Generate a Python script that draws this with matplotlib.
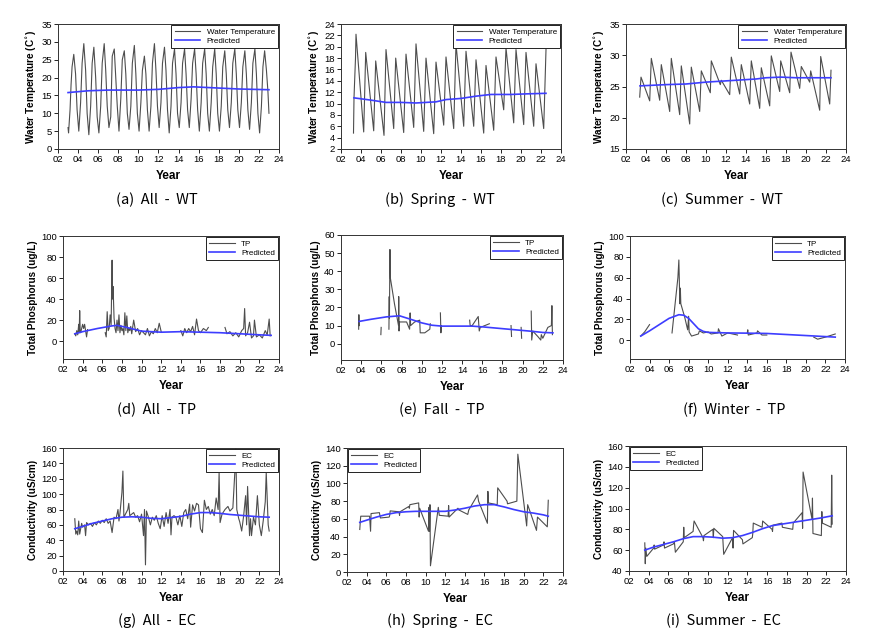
import numpy as np
import matplotlib
matplotlib.use("Agg")
import matplotlib.pyplot as plt

nan = np.nan

# ---------------- (a) All - WT ----------------
wt_all_x = [3.0, 3.05, 3.2, 3.3, 3.4, 3.57, 3.75, 3.9,
            4.07, 4.25, 4.4, 4.57, 4.75, 4.9,
            5.07, 5.25, 5.4, 5.57, 5.75, 5.9,
            6.07, 6.25, 6.4, 6.6, 6.75, 6.9,
            7.07, 7.25, 7.4, 7.6, 7.75, 7.9,
            8.07, 8.25, 8.4, 8.6, 8.75, 8.9,
            9.07, 9.25, 9.4, 9.6, 9.75, 9.9,
            10.07, 10.25, 10.4, 10.6, 10.75, 10.9,
            11.07, 11.25, 11.4, 11.6, 11.75, 11.9,
            12.07, 12.25, 12.4, 12.6, 12.75, 12.9,
            13.07, 13.25, 13.4, 13.6, 13.75, 13.9,
            14.07, 14.25, 14.4, 14.6, 14.75, 14.9,
            15.07, 15.25, 15.4, 15.6, 15.75, 15.9,
            16.07, 16.25, 16.4, 16.6, 16.75, 16.9,
            17.07, 17.25, 17.4, 17.6, 17.75, 17.9,
            18.07, 18.25, 18.4, 18.6, 18.75, 18.9,
            19.07, 19.25, 19.4, 19.6, 19.75, 19.9,
            20.07, 20.25, 20.4, 20.6, 20.75, 20.9,
            21.07, 21.25, 21.4, 21.6, 21.75, 21.9,
            22.07, 22.25, 22.4, 22.57, 22.75, 22.9, 23.0]
wt_all_y = [6, 4.5, 11, 18, 23, 26.5, 21, 11,
            5, 13, 24, 29.5, 22, 10,
            4, 12, 24, 28.5, 20, 9,
            4.5, 12, 24, 29.5, 22, 12,
            6, 9, 26, 28, 20, 12,
            5, 14, 25, 27.5, 21, 10,
            5.5, 12, 24, 29, 21, 10,
            5, 13, 22, 26, 21, 11,
            5, 12, 24, 29.5, 22, 12,
            6, 13, 24, 28.5, 22, 11,
            4.5, 12, 24, 28, 21, 10,
            6, 13, 24, 28, 21, 11,
            6, 14, 24, 28, 21, 11,
            5, 13, 24, 28, 21, 10,
            5, 13, 23, 28, 21, 10,
            5, 12, 23, 27.5, 21, 11,
            6, 13, 24, 28, 21, 11,
            6, 13, 23, 27.5, 21, 11,
            5.5, 13, 24, 28, 21, 10,
            4.5, 12, 23, 27.5, 22, 16, 10]
wt_all_px = [3.0, 5, 7, 10, 12, 14, 15.5, 17, 20, 23]
wt_all_py = [15.8, 16.3, 16.5, 16.5, 16.7, 17.2, 17.4, 17.2, 16.8, 16.6]

# ---------------- (b) Spring - WT ----------------
wt_spr_x = [3.25, 3.3, 3.45, 3.5, 4.27, 4.47, 5.27, 5.47, 6.3, 6.5, 7.27, 7.47,
            8.27, 8.5, 9.27, 9.5, 10.27, 10.5, 11.27, 11.5, 12.27, 12.5,
            13.27, 13.5, 14.27, 14.5, 15.27, 15.5, 16.27, 16.5, 17.27, 17.5,
            18.27, 18.5, 19.27, 19.5, 20.27, 20.5, 21.27, 21.5, 22.27, 22.5]
wt_spr_y = [4.8, 11, 18, 22.2, 5, 19, 5.2, 17.5, 4.4, 19.5, 5.6, 18,
            4.9, 18.7, 5.8, 20.5, 5.1, 18, 4.7, 17.3, 6.2, 18.2,
            5.6, 20.5, 6, 19.2, 6, 17.7, 4.8, 16.7, 5.3, 18.2,
            8.9, 19.8, 6.6, 19.5, 6.3, 19, 6, 17, 5.6, 19.5]
wt_spr_px = [3.3, 5, 6.5, 8, 9.5, 11.5, 12.5, 14, 15.5, 17, 19, 20.5, 22.5]
wt_spr_py = [11, 10.6, 10.2, 10.2, 10.1, 10.3, 10.7, 10.9, 11.3, 11.6, 11.6, 11.7, 11.8]

# ---------------- (c) Summer - WT ----------------
wt_sum_x = [3.37, 3.5, 4.37, 4.53, 5.37, 5.53, 6.37, 6.53, 7.37, 7.53, 8.37, 8.53,
            9.37, 9.53, 10.43, 10.53, 11.43, 11.53, 12.37, 12.53, 13.37, 13.53,
            14.37, 14.53, 15.37, 15.53, 16.37, 16.53, 17.37, 17.47, 18.37, 18.5,
            19.37, 19.53, 20.37, 20.47, 21.37, 21.47, 22.37, 22.5]
wt_sum_y = [23.3, 26.5, 22.7, 29.5, 22.8, 28.5, 21, 29.5, 20.5, 28.3, 19, 28.1,
            21, 27.5, 24, 29.1, 25.3, 26, 23.7, 29.7, 23.8, 28.5,
            22.2, 29.1, 21.5, 28, 21.9, 29.9, 24.2, 29.1, 24, 30.5,
            24.7, 28.2, 25.7, 27.5, 21.2, 29.8, 22.2, 27.6]
wt_sum_px = [3.4, 6, 8, 10, 12, 14, 15, 16, 17.5, 19, 22.5]
wt_sum_py = [25.1, 25.3, 25.4, 25.7, 25.9, 26.1, 26.2, 26.4, 26.5, 26.4, 26.4]

# ---------------- (d) All - TP ----------------
tp_all_x = [3.2, 3.3, 3.4, 3.5, 3.6, 3.65, 3.7, 3.75, 3.8, 3.9, 4.0, 4.1, 4.2, 4.3, 4.4, 4.5, nan,
            6.3, 6.4, 6.5, 6.6, 6.7, 6.8, 6.9, 7.0, 7.05, 7.1, 7.2, 7.3, 7.4, 7.5, 7.6, 7.7,
            7.8, 7.9, 8.0, 8.1, 8.2, 8.3, 8.4, 8.5, 8.6, 8.7, 8.8, 8.9, 9.0, 9.2, 9.4, 9.6,
            9.8, 10.0, 10.2, 10.4, 10.6, 10.8, 11.0, 11.2, 11.4, 11.6, 11.8, 12.0, nan,
            14.0, 14.2, 14.4, 14.6, 14.8, 15.0, 15.2, 15.4, 15.6, 15.8, 16.0, 16.3, 16.6, 16.8, nan,
            18.5, 18.7, 19.0, 19.3, 19.6, 19.9, 20.2, 20.4, 20.5, 20.6, 20.8, 21.0, 21.2, 21.4,
            21.5, 21.7, 22.0, 22.3, 22.6, 22.8, 23.0, 23.1]
tp_all_y = [7, 5, 10, 6, 16, 8, 29, 10, 8, 12, 16, 12, 16, 10, 4, 11, nan,
            8, 4, 28, 10, 12, 25, 15, 77, 40, 52, 22, 12, 8, 20, 10, 25,
            8, 15, 10, 12, 6, 27, 10, 24, 8, 12, 10, 14, 7, 20, 9, 12,
            6, 10, 8, 6, 12, 5, 9, 7, 12, 8, 17, 9, nan,
            10, 5, 12, 8, 12, 9, 14, 6, 21, 10, 8, 12, 10, 13, nan,
            13, 7, 9, 5, 8, 4, 10, 12, 31, 5, 8, 18, 3, 5,
            20, 4, 6, 3, 10, 6, 21, 5]
tp_all_px = [3.2, 4, 5.5, 7, 7.5, 8.5, 10, 12, 14, 16, 18, 20, 22, 23.2]
tp_all_py = [7, 9, 12, 14.5, 15, 13, 9.5, 8.5, 9, 8.5, 8, 7, 6, 5.5]

# ---------------- (e) Fall - TP ----------------
tp_fall_x = [3.75, 3.77, 3.8, nan, 5.95, 5.98, nan,
             6.75, 6.78, 6.8, 6.85, 6.9, 7.3, 7.7, 7.72, 7.75, 7.8, 8.5, 8.8, 8.85, 8.9,
             9.3, 9.8, 9.85, 10.3, 10.8, 10.85, nan, 11.85, 11.9, 11.95, nan,
             14.75, 14.8, 15.0, 15.6, 15.7, 15.8, 16.7, nan, 18.85, 18.9, nan, 19.85, 19.9, nan,
             20.85, 20.9, 21.0, 21.5, 21.8, 21.85, 22.0, 22.5, 22.85, 22.9, 22.95]
tp_fall_y = [8, 16, 10, nan, 5, 9, nan,
             8, 26, 14, 52, 36, 22, 10, 26, 7, 12, 12, 8, 17, 10,
             12, 13, 6, 6, 8, 11, nan, 17, 6, 10, nan,
             13, 10, 10, 15, 7, 9, 11, nan, 10, 4, nan, 9, 3, nan,
             18, 2, 7, 4, 2, 5, 3, 9, 10, 21, 5]
tp_fall_px = [3.8, 5, 6.5, 7.8, 9, 10, 11, 12, 14, 15, 16, 18, 20, 21, 22, 23]
tp_fall_py = [12.3, 13.5, 14.8, 15.4, 13.3, 11.5, 10.2, 9.7, 9.7, 9.7, 9.3, 8.3, 7.3, 6.8, 6.2, 6.0]

# ---------------- (f) Winter - TP ----------------
tp_win_x = [3.1, 3.5, 4.0, nan, 6.3, 6.9, 7.0, 7.1, 7.15, 7.2, 7.6, 7.9, 8.0, 8.05, 8.3,
            9.0, 9.1, 9.5, 10.0, 10.3, 11.0, 11.05, 11.4, 11.8, 12.0, 12.5, 13.0, nan,
            14.0, 14.05, 14.1, 15.0, 15.05, 15.5, 16.0, nan, 20.8, 21.2, 22.0, 23.0]
tp_win_y = [4, 8, 15, nan, 7, 60, 77, 35, 50, 35, 22, 10, 23, 8, 4,
            6, 9, 7, 8, 6, 7, 11, 4, 6, 7, 6, 5, nan,
            7, 10, 5, 7, 9, 5, 5, nan, 3, 1, 3, 6]
tp_win_px = [3.1, 4, 5, 6, 7, 7.5, 8, 8.5, 9, 9.5, 10, 12, 14, 16, 18, 20, 22, 23]
tp_win_py = [4, 9, 15, 21, 24.5, 24, 21, 16, 11, 8.5, 7.5, 7, 6.8, 6.5, 5.5, 4.5, 3.5, 3]

# ---------------- (g) All - EC ----------------
ec_all_x = [3.2, 3.3, 3.4, 3.5, 3.6, 3.7, 3.8, 3.9, 4.0, 4.2, 4.3, 4.4, 4.6, 4.8, 5.0,
            5.2, 5.4, 5.6, 5.8, 6.0, 6.2, 6.4, 6.6, 6.8, 7.0, 7.2, 7.4, 7.6, 7.7, 7.8,
            8.0, 8.1, 8.2, 8.4, 8.6, 8.7, 8.8, 9.0, 9.2, 9.4, 9.6, 9.8, 10.0, 10.2, 10.3,
            10.4, 10.5, 10.7, 10.9, 11.1, 11.3, 11.5, 11.7, 11.9, 12.1, 12.3, 12.5, 12.7, 12.9,
            13.0, 13.1, 13.3, 13.5, 13.7, 13.9, 14.1, 14.3, 14.5, 14.7, 14.9, 15.0, 15.2, 15.4,
            15.6, 15.8, 16.0, 16.2, 16.4, 16.6, 16.8, 17.0, 17.2, 17.4, 17.6, 17.8, 17.9, 18.0,
            18.2, 18.5, 18.8, 19.0, 19.3, 19.5, 19.6, 19.7, 19.9, 20.0, 20.2, 20.4, 20.6, 20.7,
            20.8, 21.0, 21.1, 21.2, 21.4, 21.6, 21.8, 22.0, 22.2, 22.4, 22.6, 22.7, 22.9, 23.0]
ec_all_y = [68, 48, 52, 47, 65, 48, 55, 62, 57, 60, 46, 63, 60, 62, 58,
            63, 60, 65, 62, 66, 63, 68, 62, 65, 50, 70, 68, 80, 65, 75,
            102, 130, 70, 75, 80, 88, 72, 74, 76, 70, 72, 64, 74, 46, 80,
            8, 78, 70, 60, 70, 66, 72, 62, 55, 72, 58, 76, 62, 80,
            47, 70, 72, 70, 60, 72, 58, 76, 80, 68, 87, 57, 86, 78,
            88, 86, 55, 50, 92, 80, 84, 74, 80, 72, 95, 80, 128, 63,
            74, 80, 84, 78, 82, 128, 160, 80, 68, 64, 52, 72, 98, 60,
            110, 46, 68, 46, 70, 60, 98, 60, 46, 66, 90, 128, 60, 52]
ec_all_px = [3.2, 4, 5, 6, 7, 8, 9, 10, 11, 12, 13, 14, 15, 16, 17, 18, 19, 20, 21, 22, 23]
ec_all_py = [55, 58, 62, 65, 68, 70, 70.5, 70, 68.5, 68, 69.5, 71, 74, 76, 76, 75,
             73.5, 72.5, 71.5, 70.5, 70]

# ---------------- (h) Spring - EC ----------------
ec_spr_x = [3.3, 3.35, 3.4, 4.3, 4.4, 4.45, 5.3, 5.4, 6.3, 6.35, 6.4, 7.3, 7.35, 7.4,
            8.3, 8.35, 8.4, 9.3, 9.35, 9.4, 10.3, 10.35, 10.4, 10.45, 10.5, 11.3, 11.4,
            12.3, 12.35, 12.4, 13.3, 13.4, 14.3, 14.4, 15.3, 15.4, 16.3, 16.35, 16.4,
            17.3, 17.35, 18.3, 18.35, 19.3, 19.4, 20.3, 20.4, 21.3, 21.4, 22.4, 22.5]
ec_spr_y = [48, 56, 63, 63, 46, 66, 67, 61, 62, 64, 69, 68, 64, 68,
            74, 72, 76, 78, 62, 72, 46, 73, 46, 76, 7, 73, 64,
            63, 75, 62, 72, 70, 65, 70, 87, 80, 55, 91, 78,
            76, 95, 80, 77, 80, 133, 52, 76, 47, 62, 51, 81]
ec_spr_px = [3.3, 4, 5, 6, 7, 8, 9, 10, 11, 12, 13, 14, 15, 16, 17, 18, 19, 20, 21, 22, 22.5]
ec_spr_py = [56, 58.5, 62, 65, 67, 68, 68.5, 68.5, 68.5, 68.5, 70, 72, 74.5, 76, 76,
             73.5, 70.5, 68, 66.5, 64.5, 63]

# ---------------- (i) Summer - EC ----------------
ec_sum_x = [3.6, 3.65, 3.7, 3.8, 4.5, 4.55, 4.6, 5.5, 5.55, 5.6, 6.5, 6.6, 6.7,
            7.5, 7.55, 7.6, 8.5, 8.55, 8.6, 9.5, 9.55, 9.6, 10.5, 10.55, 10.6,
            11.5, 11.6, 12.5, 12.55, 12.6, 13.5, 13.55, 14.5, 14.55, 14.6, 15.5, 15.55,
            16.5, 16.55, 16.6, 17.5, 17.55, 18.6, 18.65, 19.55, 19.6, 19.65,
            20.55, 20.6, 20.65, 21.5, 21.55, 21.6, 22.5, 22.55, 22.6]
ec_sum_y = [67, 47, 62, 54, 62, 65, 61, 65, 68, 62, 66, 68, 58,
            68, 82, 72, 78, 84, 88, 72, 69, 74, 80, 72, 81,
            73, 56, 72, 62, 79, 70, 66, 72, 76, 86, 82, 88,
            80, 78, 84, 86, 82, 80, 86, 96, 81, 135,
            90, 110, 76, 74, 97, 86, 82, 132, 85]
ec_sum_px = [3.6, 4.5, 5.5, 6.5, 7.5, 8.5, 9.5, 10.5, 11.5, 12.5, 13.5, 14.5, 15.5,
             16.5, 17.5, 18.5, 19.5, 20.5, 21.5, 22.6]
ec_sum_py = [60, 63, 65.5, 68, 71, 73, 73, 72.5, 71.5, 72, 74, 77, 80.5, 83.5, 85,
             86.5, 88, 89.5, 91, 93]

W, H = 869, 639
fig = plt.figure(figsize=(W / 100, H / 100), dpi=100)
plt.rcParams['font.family'] = ['Liberation Sans', 'DejaVu Sans']

DATA_C = '#4d4d4d'
PRED_C = '#3d3dff'


def panel(box, x, y, px, py, ylim, yticks, ylabel, label, caption, cap_xy, loc='upper right'):
    l, r, t, b = box
    ax = fig.add_axes([l / W, 1 - b / H, (r - l) / W, (b - t) / H])
    ax.plot(x, y, color=DATA_C, lw=0.8, label=label)
    ax.plot(px, py, color=PRED_C, lw=1.2, label='Predicted')
    ax.set_xlim(2, 24)
    ax.set_xticks(range(2, 25, 2))
    ax.set_xticklabels([f"{v:02d}" for v in range(2, 25, 2)])
    ax.set_ylim(*ylim)
    ax.set_yticks(yticks)
    ax.tick_params(labelsize=6.8, length=3, width=0.6, pad=1.5, direction='out')
    for s in ax.spines.values():
        s.set_linewidth(0.7)
        s.set_color('#333333')
    ax.set_xlabel('Year', fontsize=8.5, fontweight='bold', labelpad=4)
    ax.set_ylabel(ylabel, fontsize=7.2, fontweight='bold', labelpad=2)
    leg = ax.legend(loc=loc, fontsize=5.8, borderaxespad=0.1, fancybox=False,
                    handlelength=3.2, handletextpad=0.8, borderpad=0.4,
                    labelspacing=0.2, framealpha=1)
    leg.get_frame().set_edgecolor('#222222')
    leg.get_frame().set_linewidth(0.7)
    fig.text(cap_xy[0] / W, 1 - cap_xy[1] / H, caption, ha='center', va='center',
             fontsize=10.5, family=['Noto Sans CJK KR', 'DejaVu Sans'])
    return ax


wt_lab = 'Water Temperature (C$^{\\circ}$)'
tp_lab = 'Total Phosphorus (ug/L)'
ec_lab = 'Conductivity (uS/cm)'

panel((58, 279, 24, 149), wt_all_x, wt_all_y, wt_all_px, wt_all_py, (0, 35), range(0, 36, 5),
      wt_lab, 'Water Temperature', '(a)  All  -  WT', (157, 200))
panel((341, 561, 24, 149), wt_spr_x, wt_spr_y, wt_spr_px, wt_spr_py, (2, 24), range(2, 25, 2),
      wt_lab, 'Water Temperature', '(b)  Spring  -  WT', (440, 200))
panel((626, 846, 24, 149), wt_sum_x, wt_sum_y, wt_sum_px, wt_sum_py, (15, 35), range(15, 36, 5),
      wt_lab, 'Water Temperature', '(c)  Summer  -  WT', (722, 200))

panel((63, 279, 236, 359), tp_all_x, tp_all_y, tp_all_px, tp_all_py, (-17, 100), range(0, 101, 20),
      tp_lab, 'TP', '(d)  All  -  TP', (157, 410))
panel((341, 563, 235, 360), tp_fall_x, tp_fall_y, tp_fall_px, tp_fall_py, (-9, 60), range(0, 61, 10),
      tp_lab, 'TP', '(e)  Fall  -  TP', (442, 410))
panel((630, 845, 236, 359), tp_win_x, tp_win_y, tp_win_px, tp_win_py, (-18, 100), range(0, 101, 20),
      tp_lab, 'TP', '(f)  Winter  -  TP', (734, 410))

panel((63, 279, 448, 571), ec_all_x, ec_all_y, ec_all_px, ec_all_py, (0, 160), range(0, 161, 20),
      ec_lab, 'EC', '(g)  All  -  EC', (157, 621))
panel((347, 563, 448, 572), ec_spr_x, ec_spr_y, ec_spr_px, ec_spr_py, (0, 140), range(0, 141, 20),
      ec_lab, 'EC', '(h)  Spring  -  EC', (440, 621), loc='upper left')
panel((629, 846, 446, 571), ec_sum_x, ec_sum_y, ec_sum_px, ec_sum_py, (40, 160), range(40, 161, 20),
      ec_lab, 'EC', '(i)  Summer  -  EC', (723, 621), loc='upper left')

fig.savefig('out.png', dpi=100)
